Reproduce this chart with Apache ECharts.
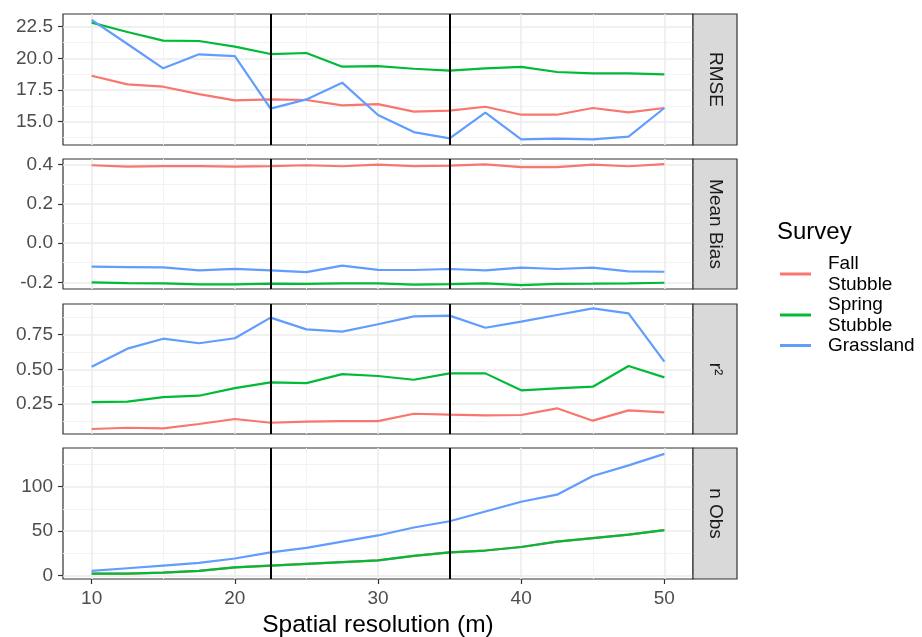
<!DOCTYPE html>
<html>
<head>
<meta charset="utf-8">
<script src="https://cdn.jsdelivr.net/npm/echarts@6/dist/echarts.min.js"></script>
<style>html,body{margin:0;padding:0;background:#fff}#c{width:922px;height:637px}</style>
</head>
<body>
<div id="c"></div>
<script>
// ---- data ----
const xValues = [10,12.5,15,17.5,20,22.5,25,27.5,30,32.5,35,37.5,40,42.5,45,47.5,50];
const seriesNames = ['Fall\nStubble','Spring\nStubble','Grassland'];
const panelNames = ['RMSE','Mean Bias','r\u00B2','n Obs'];

const rmseFall   = [18.63,17.95,17.76,17.18,16.68,16.76,16.71,16.29,16.39,15.79,15.87,16.18,15.55,15.55,16.08,15.74,16.08];
const rmseSpring = [22.82,22.08,21.40,21.37,20.92,20.34,20.42,19.34,19.39,19.18,19.03,19.21,19.32,18.92,18.82,18.82,18.74];
const rmseGrass  = [23.03,21.13,19.21,20.32,20.18,16.03,16.76,18.08,15.53,14.18,13.68,15.71,13.61,13.66,13.61,13.82,16.08];

const biasFall   = [0.397,0.390,0.393,0.393,0.390,0.393,0.397,0.392,0.400,0.393,0.395,0.402,0.388,0.388,0.400,0.392,0.403];
const biasSpring = [-0.200,-0.204,-0.205,-0.210,-0.210,-0.207,-0.208,-0.205,-0.205,-0.212,-0.209,-0.205,-0.214,-0.208,-0.207,-0.205,-0.202];
const biasGrass  = [-0.120,-0.122,-0.124,-0.139,-0.131,-0.139,-0.148,-0.115,-0.136,-0.137,-0.132,-0.139,-0.125,-0.132,-0.125,-0.144,-0.146];

const r2Fall   = [0.070,0.079,0.075,0.106,0.142,0.115,0.123,0.127,0.127,0.180,0.173,0.168,0.171,0.219,0.130,0.204,0.190];
const r2Spring = [0.264,0.267,0.300,0.310,0.365,0.406,0.401,0.466,0.452,0.425,0.471,0.471,0.349,0.363,0.375,0.524,0.442];
const r2Grass  = [0.519,0.649,0.721,0.688,0.724,0.873,0.788,0.772,0.825,0.882,0.887,0.800,0.844,0.892,0.940,0.904,0.555];

const nObsFall   = [2,2,3,5,9,11,13,15,17,22,26,28,32,38,42,46,51];
const nObsSpring = [2,2,3,5,9,11,13,15,17,22,26,28,32,38,42,46,51];
const nObsGrass  = [5,8,11,14,19,26,31,38,45,54,61,72,83,91,112,124,137];

const refLines = [22.5, 35];

const xTicks = [10,20,30,40,50];
const xMinorTicks = [15,25,35,45];
const rmseTicks = [15,17.5,20,22.5];
const rmseMinorTicks = [13.75,16.25,18.75,21.25];
const biasTicks = [-0.2,0,0.2,0.4];
const biasMinorTicks = [-0.1,0.1,0.3];
const r2Ticks = [0.25,0.5,0.75];
const r2MinorTicks = [0.125,0.375,0.625,0.875];
const nObsTicks = [0,50,100];
const nObsMinorTicks = [25,75,125];

// ---- layout / style ----
const FONT = 'Liberation Sans, Arial, sans-serif';
const colors = ['#F8766D','#00BA38','#619CFF'];
const plotLeft = 63, plotRight = 693, stripW = 44;
const panels = [
  {top:14, h:131, min:13.16, max:23.5, ticks:rmseTicks, minor:rmseMinorTicks, dec:1, data:[rmseFall,rmseSpring,rmseGrass]},
  {top:159, h:130, min:-0.234, max:0.429, ticks:biasTicks, minor:biasMinorTicks, dec:1, data:[biasFall,biasSpring,biasGrass]},
  {top:304, h:130, min:0.034, max:0.971, ticks:r2Ticks, minor:r2MinorTicks, dec:2, data:[r2Fall,r2Spring,r2Grass]},
  {top:448, h:131, min:-4.1, max:143.6, ticks:nObsTicks, minor:nObsMinorTicks, dec:0, data:[nObsFall,nObsSpring,nObsGrass]}
];

const grid = [], xAxis = [], yAxis = [], series = [], graphic = [];
panels.forEach((p, i) => {
  grid.push({left:plotLeft, width:plotRight-plotLeft, top:p.top, height:p.h, show:true,
    borderColor:'#333', borderWidth:1.2, backgroundColor:'#fff', containLabel:false, outerBoundsMode:'none'});
  const bottom = i === panels.length - 1;
  // minor x
  xAxis.push({type:'value', gridIndex:i, position:'bottom', min:8, max:52, axisLine:{show:false},
    axisTick:{show:false, customValues:xMinorTicks}, axisLabel:{show:false, customValues:xMinorTicks},
    splitLine:{show:true, lineStyle:{color:'#F3F3F3', width:1}}});
  // major x
  xAxis.push({type:'value', gridIndex:i, position:'bottom', min:8, max:52, axisLine:{show:false, onZero:false},
    axisTick:{show:bottom, length:5, customValues:xTicks, lineStyle:{color:'#333', width:1.2}},
    axisLabel:{show:bottom, customValues:xTicks, margin:10, fontSize:19, color:'#4D4D4D', fontFamily:FONT},
    splitLine:{show:true, lineStyle:{color:'#EBEBEB', width:1.5}},
    name: bottom ? 'Spatial resolution (m)' : '', nameLocation:'middle', nameGap:34,
    nameTextStyle:{fontSize:24.5, color:'#000', fontFamily:FONT}});
  // minor y
  yAxis.push({type:'value', gridIndex:i, position:'left', min:p.min, max:p.max, axisLine:{show:false},
    axisTick:{show:false, customValues:p.minor}, axisLabel:{show:false, customValues:p.minor},
    splitLine:{show:true, lineStyle:{color:'#F3F3F3', width:1}}});
  // major y
  const dec = p.dec;
  yAxis.push({type:'value', gridIndex:i, position:'left', min:p.min, max:p.max, axisLine:{show:false, onZero:false},
    axisTick:{show:true, length:5, customValues:p.ticks, lineStyle:{color:'#333', width:1.2}},
    axisLabel:{show:true, customValues:p.ticks, margin:10, fontSize:19, color:'#4D4D4D', fontFamily:FONT,
      formatter:v => Number(v).toFixed(dec)},
    splitLine:{show:true, lineStyle:{color:'#EBEBEB', width:1.5}}});

  p.data.forEach((arr, k) => {
    const s = {
      type:'line', name:seriesNames[k], xAxisIndex:2*i+1, yAxisIndex:2*i+1,
      data: xValues.map((x, j) => [x, arr[j]]),
      showSymbol:false, symbol:'none', lineStyle:{color:colors[k], width:2.2}, itemStyle:{color:colors[k]},
      animation:false, z:2+k
    };
    if (k === p.data.length - 1) {
      s.markLine = {silent:true, symbol:['none','none'], label:{show:false}, animation:false,
        lineStyle:{color:'#000', width:2, type:'solid'},
        data: refLines.map(v => ({xAxis:v}))};
    }
    series.push(s);
  });

  graphic.push({type:'rect', shape:{x:plotRight, y:p.top, width:stripW, height:p.h},
    style:{fill:'#D9D9D9', stroke:'#333', lineWidth:1.2}, z:10});
  graphic.push({type:'text', x:plotRight + stripW/2, y:p.top + p.h/2, rotation:-Math.PI/2,
    style:{text:panelNames[i], fontSize:19, fill:'#1A1A1A', fontFamily:FONT, align:'center', verticalAlign:'middle'}, z:11});
});

const chart = echarts.init(document.getElementById('c'), null, {renderer:'canvas'});
chart.setOption({
  backgroundColor:'#fff',
  animation:false,
  title:{text:'Survey', left:777, top:220, padding:0,
    textStyle:{fontSize:24, fontWeight:'normal', color:'#000', fontFamily:FONT}},
  legend:{orient:'vertical', left:780, top:253, padding:0, itemGap:-1, itemWidth:31, itemHeight:3,
    icon:'rect', data:seriesNames,
    textStyle:{fontSize:19, lineHeight:21, color:'#000', fontFamily:FONT, padding:[0,0,0,12]}},
  grid, xAxis, yAxis, series, graphic
});
</script>
</body>
</html>
